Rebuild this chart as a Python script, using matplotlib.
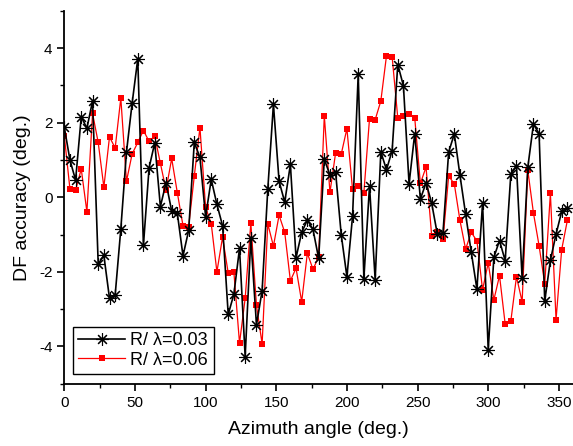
import matplotlib
matplotlib.use("Agg")
import matplotlib.pyplot as plt
from matplotlib.ticker import MultipleLocator

plt.rcParams['font.family'] = ['Liberation Sans', 'DejaVu Sans']
plt.rcParams['axes.unicode_minus'] = False

# azimuth angles, one point every 4 degrees
angles = list(range(0, 360, 4))

# R/lambda = 0.03 (black, asterisks)
acc_003 = [1.88, 1.00, 0.46, 2.16, 1.85, 2.58, -1.79, -1.56, -2.71, -2.62,
           -0.85, 1.21, 2.52, 3.71, -1.29, 0.79, 1.46, -0.25, 0.39, -0.37,
           -0.43, -1.57, -0.89, 1.47, 1.07, -0.52, 0.48, -0.19, -0.76, -3.14,
           -2.60, -1.37, -4.27, -1.10, -3.42, -2.50, 0.21, 2.49, 0.43, -0.13,
           0.88, -1.62, -0.94, -0.61, -0.86, -1.64, 1.02, 0.60, 0.67, -1.01,
           -2.13, -0.51, 3.30, -2.18, 0.30, -2.21, 1.22, 0.74, 1.25, 3.56,
           2.99, 0.36, 1.71, -0.05, 0.39, -0.16, -0.99, -0.95, 1.21, 1.70,
           0.59, -0.45, -1.47, -2.46, -0.16, -4.09, -1.61, -1.16, -1.70, 0.62,
           0.84, -2.17, 0.80, 1.96, 1.71, -2.78, -1.69, -0.99, -0.38, -0.28]

# R/lambda = 0.06 (red, squares)
acc_006 = [1.65, 0.22, 0.19, 0.76, -0.39, 2.25, 1.47, 0.27, 1.62, 1.32,
           2.66, 0.43, 1.16, 1.47, 1.79, 1.50, 1.64, 0.91, 0.20, 1.04,
           0.12, -0.76, -0.79, 0.57, 1.87, -0.27, -0.71, -2.00, -1.07, -2.03,
           -2.00, -3.91, -2.71, -0.69, -2.90, -3.93, -0.71, -1.31, -0.48, -0.94,
           -2.24, -1.90, -2.80, -1.50, -1.93, -1.60, 2.19, 0.13, 1.19, 1.16,
           1.84, 0.21, 0.30, 0.12, 2.11, 2.08, 2.58, 3.79, 3.77, 2.13,
           2.19, 2.22, 2.13, 0.37, 0.81, -1.04, -0.92, -1.13, 0.57, 0.36,
           -0.62, -1.39, -0.94, -1.17, -2.48, -1.76, -2.75, -2.10, -3.40, -3.32,
           -2.13, -2.80, 0.73, -0.42, -1.30, -2.32, 0.11, -3.28, -1.40, -0.62]

fig = plt.figure(figsize=(5.73, 4.46), dpi=100)
ax = fig.add_axes([0.1122, 0.1395, 0.8878, 0.8363])

ax.plot(angles, acc_003, color='black', lw=1.2, marker=(8, 2, 0),
        markersize=9, markeredgewidth=0.8, label='R/ \u03bb=0.03', zorder=3)
ax.plot(angles, acc_006, color='red', lw=0.9, marker='s',
        markersize=4.5, markeredgewidth=0, label='R/ \u03bb=0.06', zorder=2)

ax.set_xlim(0, 360)
ax.set_ylim(-5, 5)
ax.xaxis.set_major_locator(MultipleLocator(50))
ax.xaxis.set_minor_locator(MultipleLocator(25))
ax.yaxis.set_major_locator(MultipleLocator(2))
ax.yaxis.set_minor_locator(MultipleLocator(1))
ax.tick_params(which='major', direction='out', length=5, width=1.2, labelsize=11)
ax.tick_params(which='minor', direction='out', length=3, width=1.0)

ax.spines['top'].set_visible(False)
ax.spines['right'].set_visible(False)
ax.spines['left'].set_linewidth(1.3)
ax.spines['bottom'].set_linewidth(1.3)

ax.set_xlabel('Azimuth angle (deg.)', fontsize=14, labelpad=8)
ax.set_ylabel('DF accuracy (deg.)', fontsize=14, labelpad=6)

leg = ax.legend(loc='lower left', bbox_to_anchor=(0.0165, 0.026),
                borderaxespad=0, numpoints=1, fontsize=13, fancybox=False,
                edgecolor='black', framealpha=1, handlelength=2.6,
                handletextpad=0.3, borderpad=0.3, labelspacing=0.15)
leg.get_frame().set_linewidth(1.0)

fig.savefig('out.png', dpi=100)
